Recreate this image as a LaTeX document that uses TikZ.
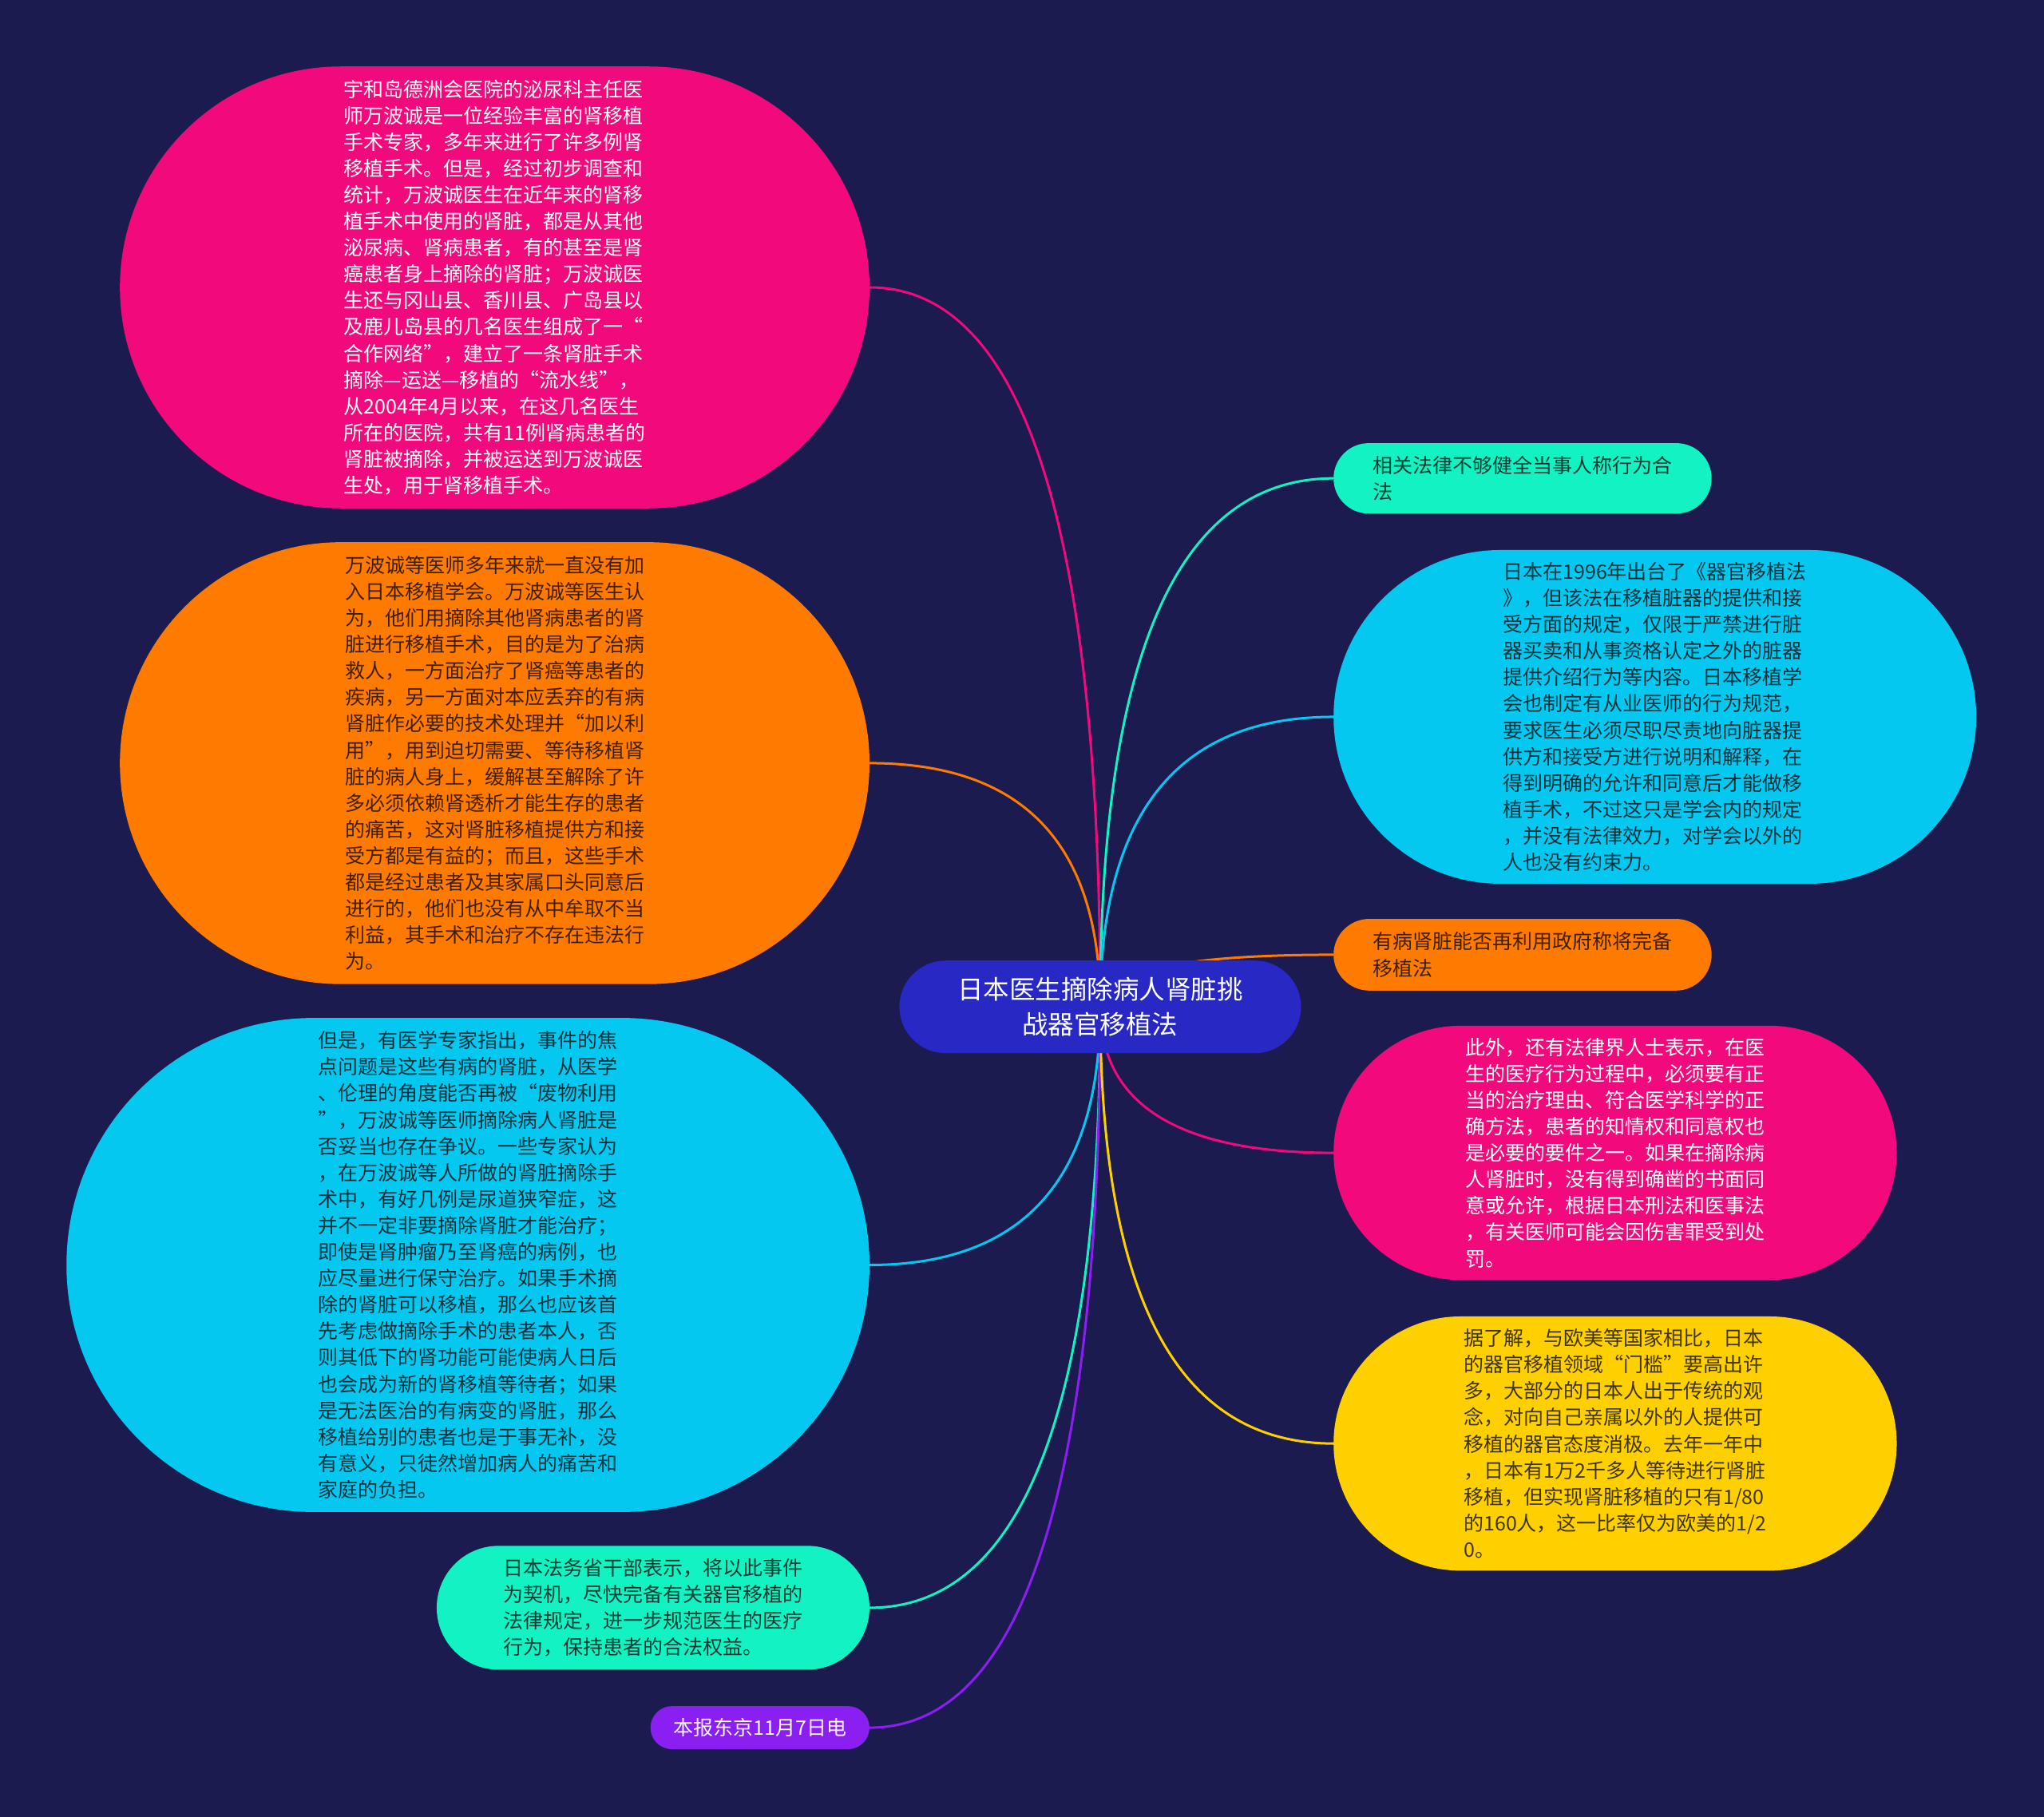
\documentclass[tikz,border=0pt]{standalone}
\usepackage{fontspec}
\newfontfamily\cjk{Noto Sans CJK SC}
\usetikzlibrary{shapes.misc,calc}
\definecolor{bgc}{HTML}{1C1B50}
\definecolor{cpink}{HTML}{F2097B}
\definecolor{corange}{HTML}{FF7B00}
\definecolor{ccyan}{HTML}{05C8F0}
\definecolor{caqua}{HTML}{12F2C2}
\definecolor{cpurple}{HTML}{8B1EF0}
\definecolor{cyellow}{HTML}{FFD000}
\definecolor{croot}{HTML}{2828C4}
\pgfdeclarelayer{back}
\pgfdeclarelayer{bg}
\pgfsetlayers{back,bg,main}
\tikzset{
  box/.style={rounded rectangle, inner sep=0pt, align=left,
    font=\cjk\fontsize{25}{33.1}\selectfont},
  rootbox/.style={rounded rectangle, inner sep=0pt, align=center, fill=croot, text=white,
    font=\cjk\fontsize{32.5}{44}\selectfont, minimum width=503pt, minimum height=116pt},
  link/.style={line width=3pt}
}
\begin{document}
\begin{tikzpicture}[x=1.63265pt,y=-1.63265pt]
\begin{pgfonlayer}{back}
\fill[bgc] (0,0) rectangle (1568,1394);
\end{pgfonlayer}
\useasboundingbox (0,0) rectangle (1568,1394);

\node[rootbox] (root) at (844,772.5) {日本医生摘除病人肾脏挑\\战器官移植法};

% left side
\node[box, fill=cpink, text=white, minimum width=938.8pt, minimum height=553.5pt] (lpink) at (379.5,220.5) {%
宇和岛德洲会医院的泌尿科主任医\\
师万波诚是一位经验丰富的肾移植\\
手术专家，多年来进行了许多例肾\\
移植手术。但是，经过初步调查和\\
统计，万波诚医生在近年来的肾移\\
植手术中使用的肾脏，都是从其他\\
泌尿病、肾病患者，有的甚至是肾\\
癌患者身上摘除的肾脏；万波诚医\\
生还与冈山县、香川县、广岛县以\\
及鹿儿岛县的几名医生组成了一“\\
合作网络”，建立了一条肾脏手术\\
摘除—运送—移植的“流水线”，\\
从2004年4月以来，在这几名医生\\
所在的医院，共有11例肾病患者的\\
肾脏被摘除，并被运送到万波诚医\\
生处，用于肾移植手术。};

\node[box, fill=corange, text=corange!25!black, minimum width=938.8pt, minimum height=553.5pt] (lorange) at (379.5,585.5) {%
万波诚等医师多年来就一直没有加\\
入日本移植学会。万波诚等医生认\\
为，他们用摘除其他肾病患者的肾\\
脏进行移植手术，目的是为了治病\\
救人，一方面治疗了肾癌等患者的\\
疾病，另一方面对本应丢弃的有病\\
肾脏作必要的技术处理并“加以利\\
用”，用到迫切需要、等待移植肾\\
脏的病人身上，缓解甚至解除了许\\
多必须依赖肾透析才能生存的患者\\
的痛苦，这对肾脏移植提供方和接\\
受方都是有益的；而且，这些手术\\
都是经过患者及其家属口头同意后\\
进行的，他们也没有从中牟取不当\\
利益，其手术和治疗不存在违法行\\
为。};

\node[box, fill=ccyan, text=ccyan!25!black, minimum width=1005.7pt, minimum height=618.8pt] (lcyan) at (359,970.5) {%
但是，有医学专家指出，事件的焦\\
点问题是这些有病的肾脏，从医学\\
、伦理的角度能否再被“废物利用\\
”，万波诚等医师摘除病人肾脏是\\
否妥当也存在争议。一些专家认为\\
，在万波诚等人所做的肾脏摘除手\\
术中，有好几例是尿道狭窄症，这\\
并不一定非要摘除肾脏才能治疗；\\
即使是肾肿瘤乃至肾癌的病例，也\\
应尽量进行保守治疗。如果手术摘\\
除的肾脏可以移植，那么也应该首\\
先考虑做摘除手术的患者本人，否\\
则其低下的肾功能可能使病人日后\\
也会成为新的肾移植等待者；如果\\
是无法医治的有病变的肾脏，那么\\
移植给别的患者也是于事无补，没\\
有意义，只徒然增加病人的痛苦和\\
家庭的负担。};

\node[box, fill=caqua, text=caqua!25!black, minimum width=542pt, minimum height=155.1pt] (laqua) at (501,1233.5) {%
日本法务省干部表示，将以此事件\\
为契机，尽快完备有关器官移植的\\
法律规定，进一步规范医生的医疗\\
行为，保持患者的合法权益。};

\node[box, fill=cpurple, text=white, minimum width=274.3pt, minimum height=54pt] (lpurple) at (583,1325.5) {本报东京11月7日电};

% right side
\node[box, fill=caqua, text=caqua!25!black, minimum width=473.5pt, minimum height=88.2pt] (raqua) at (1168,367) {%
相关法律不够健全当事人称行为合\\
法};

\node[box, fill=ccyan, text=ccyan!25!black, minimum width=804.9pt, minimum height=418pt] (rcyan) at (1269.5,550) {%
日本在1996年出台了《器官移植法\\
》，但该法在移植脏器的提供和接\\
受方面的规定，仅限于严禁进行脏\\
器买卖和从事资格认定之外的脏器\\
提供介绍行为等内容。日本移植学\\
会也制定有从业医师的行为规范，\\
要求医生必须尽职尽责地向脏器提\\
供方和接受方进行说明和解释，在\\
得到明确的允许和同意后才能做移\\
植手术，不过这只是学会内的规定\\
，并没有法律效力，对学会以外的\\
人也没有约束力。};

\node[box, fill=corange, text=corange!25!black, minimum width=473.5pt, minimum height=89.8pt] (rorange) at (1168,732.5) {%
有病肾脏能否再利用政府称将完备\\
移植法};

\node[box, fill=cpink, text=white, minimum width=705.3pt, minimum height=318.4pt] (rpink) at (1239,884.5) {%
此外，还有法律界人士表示，在医\\
生的医疗行为过程中，必须要有正\\
当的治疗理由、符合医学科学的正\\
确方法，患者的知情权和同意权也\\
是必要的要件之一。如果在摘除病\\
人肾脏时，没有得到确凿的书面同\\
意或允许，根据日本刑法和医事法\\
，有关医师可能会因伤害罪受到处\\
罚。};

\node[box, fill=cyellow, text=cyellow!25!black, minimum width=705.3pt, minimum height=318.4pt] (ryellow) at (1239,1107.5) {%
据了解，与欧美等国家相比，日本\\
的器官移植领域“门槛”要高出许\\
多，大部分的日本人出于传统的观\\
念，对向自己亲属以外的人提供可\\
移植的器官态度消极。去年一年中\\
，日本有1万2千多人等待进行肾脏\\
移植，但实现肾脏移植的只有1/80\\
的160人，这一比率仅为欧美的1/2\\
0。};

\begin{pgfonlayer}{bg}
\foreach \n/\c in {lpink/cpink, lorange/corange, lcyan/ccyan, laqua/caqua, lpurple/cpurple}
  \draw[link, \c] (root.center) .. controls ($(root.center)!0.667!(root.center |- \n.east)$)
     and ($(\n.east)!0.667!(root.center |- \n.east)$) .. (\n.east);
\foreach \n/\c in {raqua/caqua, rcyan/ccyan, rorange/corange, rpink/cpink, ryellow/cyellow}
  \draw[link, \c] (root.center) .. controls ($(root.center)!0.667!(root.center |- \n.west)$)
     and ($(\n.west)!0.667!(root.center |- \n.west)$) .. (\n.west);
\end{pgfonlayer}
\end{tikzpicture}
\end{document}
